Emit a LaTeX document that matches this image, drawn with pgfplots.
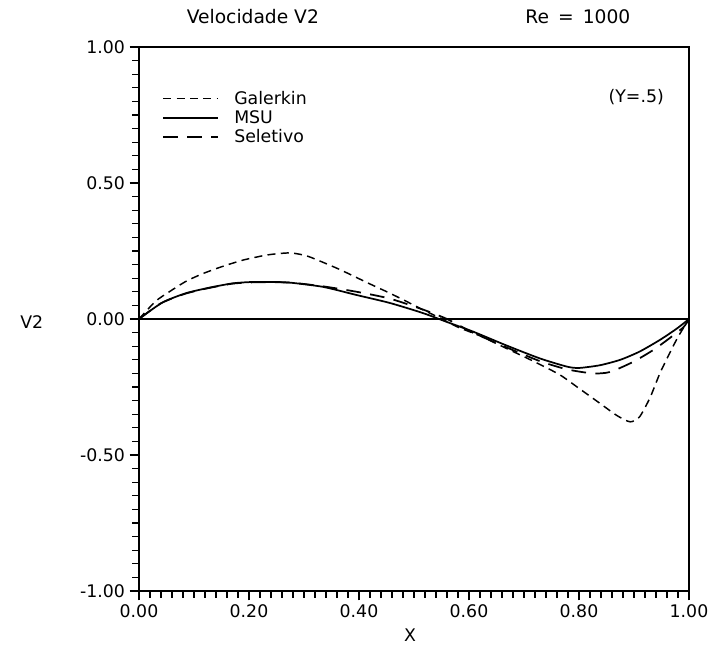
\documentclass[border=0pt]{standalone}
\usepackage{pgfplots}
\pgfplotsset{compat=1.18}
\usepackage{pgfplotstable}
\usepackage{fontspec}
\setmainfont{DejaVu Sans}
\pgfplotstableread{
x y
0 0
0.03 0.065
0.055 0.1
0.085 0.138
0.115 0.166
0.15 0.192
0.19 0.217
0.235 0.236
0.275 0.243
0.305 0.232
0.335 0.208
0.365 0.182
0.395 0.153
0.425 0.124
0.455 0.096
0.487 0.064
0.516 0.034
0.547 0.004
0.58 -0.03
0.62 -0.062
0.67 -0.11
0.72 -0.158
0.765 -0.205
0.80 -0.255
0.838 -0.31
0.869 -0.355
0.893 -0.378
0.91 -0.36
0.929 -0.29
0.947 -0.2
0.965 -0.125
0.98 -0.066
1 0
}\galerkin
\pgfplotstableread{
x y
0 0
0.042 0.06
0.084 0.094
0.125 0.114
0.17 0.131
0.205 0.136
0.25 0.136
0.278 0.133
0.335 0.118
0.396 0.088
0.456 0.059
0.516 0.022
0.56 -0.011
0.607 -0.046
0.669 -0.098
0.729 -0.145
0.778 -0.175
0.80 -0.18
0.838 -0.17
0.875 -0.15
0.91 -0.12
0.947 -0.077
0.978 -0.035
1 0
}\msu
\pgfplotstableread{
x y
0 0
0.04 0.058
0.084 0.093
0.125 0.113
0.17 0.13
0.21 0.135
0.25 0.135
0.28 0.133
0.335 0.12
0.396 0.1
0.456 0.075
0.516 0.035
0.56 0.0
0.607 -0.05
0.669 -0.105
0.729 -0.155
0.778 -0.185
0.825 -0.2
0.856 -0.195
0.898 -0.158
0.935 -0.114
0.965 -0.07
0.99 -0.03
1 0
}\seletivo
\begin{document}
\begin{tikzpicture}
\useasboundingbox (-104.25pt,-47.25pt) rectangle (427.5pt,443.25pt);
\begin{axis}[
  at={(0,0)}, anchor=south west,
  scale only axis, width=412.5pt, height=408pt,
  xmin=0, xmax=1, ymin=-1, ymax=1,
  xtick={0,0.2,...,1.0}, ytick={-1,-0.5,0,0.5,1},
  minor x tick num=9, minor y tick num=9,
  xtick pos=bottom, ytick pos=left,
  tick align=outside,
  major tick length=7pt, minor tick length=5pt,
  every tick/.style={black, line width=0.8pt},
  axis line style={line width=1pt},
  clip=false,
  font=\fontsize{13}{15}\selectfont,
  /pgf/number format/assume math mode=true,
  xticklabel style={/pgf/number format/.cd, fixed, fixed zerofill, precision=2},
  yticklabel style={/pgf/number format/.cd, fixed, fixed zerofill, precision=2},
  xlabel={X}, ylabel={V2},
  xlabel style={at={(rel axis cs:0.493,-0.081)}, anchor=center},
  ylabel style={at={(rel axis cs:-0.195,0.494)}, anchor=center, rotate=-90},
  legend style={at={(0.035,0.928)}, anchor=north west, draw=none, fill=none,
    font=\fontsize{13}{13}\selectfont, row sep=0pt, column sep=10pt,
    nodes={inner sep=1.5pt}},
  legend cell align=left,
  legend image code/.code={\draw[#1] (0pt,0pt) -- (41pt,0pt);},
]
\addplot[black, line width=0.8pt, forget plot] coordinates {(0,0) (1,0)};
\addplot[black, line width=1.1pt, dash pattern=on 6pt off 4pt, smooth, tension=0.4] table {\galerkin};
\addlegendentry{Galerkin}
\addplot[black, line width=1.3pt, smooth, tension=0.4] table {\msu};
\addlegendentry{MSU}
\addplot[black, line width=1.3pt, dash pattern=on 11pt off 7pt, smooth, tension=0.4] table {\seletivo};
\addlegendentry{Seletivo}
\node[font=\fontsize{13}{15}\selectfont] at (rel axis cs:0.904,0.908) {(Y=.5)};
\node[anchor=base, font=\fontsize{14}{16}\selectfont] at (rel axis cs:0.207,1.044) {Velocidade V2};
\node[anchor=base, font=\fontsize{14}{16}\selectfont] at (rel axis cs:0.798,1.044) {Re\, =\, 1000};
\end{axis}
\end{tikzpicture}
\end{document}
